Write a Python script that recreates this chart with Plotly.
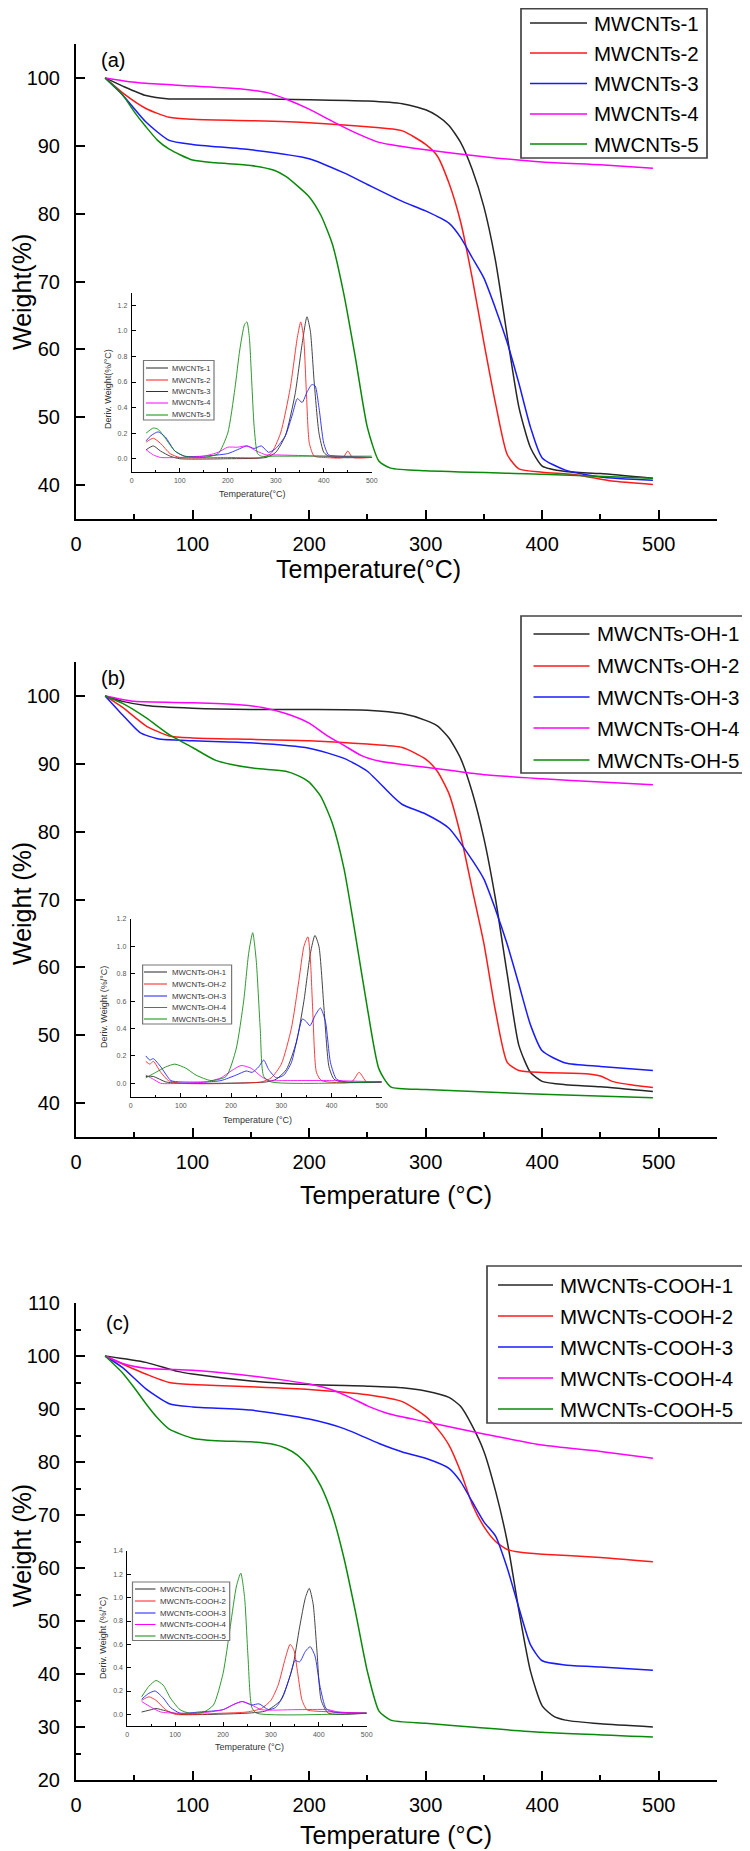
import plotly.graph_objects as go

# The page body adds an 8 px offset; the figure is sized so that it fills the window.
OFF = 8
W, H = 750 - OFF, 1851 - OFF
FONT = "Arial, Liberation Sans, sans-serif"
COLORS = ["#262626", "#ff1a1a", "#1a1aff", "#ff00ff", "#0a8a0a"]

# ---------------- Panel (a): TGA ----------------
a_names = ["MWCNTs-1", "MWCNTs-2", "MWCNTs-3", "MWCNTs-4", "MWCNTs-5"]
a1_t = [25, 40, 60, 80, 100, 150, 200, 250, 280, 300, 310, 320, 330, 340, 350, 360, 370, 380, 390, 400, 420, 450, 495]
a1_w = [100, 98.8, 97.4, 96.9, 96.9, 96.9, 96.8, 96.6, 96.2, 95.3, 94.4, 93.0, 90.5, 86.5, 81, 73, 62, 51.5, 45.5, 42.8, 42.0, 41.7, 41.0]
a2_t = [25, 40, 60, 80, 100, 150, 200, 250, 280, 300, 310, 320, 330, 340, 350, 360, 370, 380, 400, 430, 460, 495]
a2_w = [100, 97.8, 95.5, 94.2, 93.9, 93.7, 93.4, 92.8, 92.2, 90.2, 88.5, 84.5, 78.8, 70.5, 61.0, 52.0, 44.5, 42.4, 41.9, 41.5, 40.6, 40.1]
a3_t = [25, 40, 60, 80, 100, 150, 200, 230, 250, 280, 300, 320, 330, 340, 350, 360, 370, 380, 390, 400, 420, 450, 495]
a3_w = [100, 97.5, 93.5, 90.8, 90.2, 89.4, 88.1, 86, 84.3, 81.8, 80.4, 78.6, 76.5, 73.5, 70.5, 66, 61, 55, 48.5, 44, 42.2, 41.2, 40.7]
a4_t = [25, 40, 60, 100, 140, 165, 180, 200, 220, 240, 260, 280, 300, 350, 400, 450, 495]
a4_w = [100, 99.6, 99.2, 98.8, 98.4, 97.8, 96.9, 95.4, 93.6, 91.9, 90.5, 89.9, 89.4, 88.4, 87.6, 87.2, 86.7]
a5_t = [25, 40, 50, 60, 70, 80, 100, 120, 150, 170, 180, 190, 200, 210, 220, 230, 240, 250, 260, 270, 300, 400, 495]
a5_w = [100, 97.5, 95, 92.8, 90.8, 89.5, 87.9, 87.5, 87.1, 86.4, 85.5, 84.1, 82.5, 79.8, 75.5, 68, 58.5, 48.5, 43.5, 42.5, 42.1, 41.6, 41.0]

# Panel (a) inset: DTG
ai1_t = [30, 45, 60, 80, 100, 200, 280, 300, 320, 340, 355, 365, 372, 380, 390, 400, 410, 420, 500]
ai1_d = [0.07, 0.10, 0.06, 0.02, 0.0, 0.0, 0.01, 0.05, 0.18, 0.5, 0.9, 1.11, 1.0, 0.6, 0.2, 0.05, 0.02, 0.01, 0.01]
ai2_t = [30, 45, 60, 80, 100, 200, 270, 290, 310, 330, 345, 352, 358, 364, 370, 380, 400, 440, 450, 460, 500]
ai2_d = [0.13, 0.16, 0.12, 0.04, 0.01, 0.01, 0.01, 0.04, 0.2, 0.55, 0.95, 1.07, 0.95, 0.5, 0.12, 0.02, 0.01, 0.01, 0.06, 0.01, 0.01]
ai3_t = [30, 40, 55, 70, 90, 110, 150, 200, 220, 240, 255, 270, 285, 300, 320, 335, 345, 355, 365, 375, 382, 390, 400, 410, 430, 500]
ai3_d = [0.14, 0.18, 0.21, 0.17, 0.06, 0.02, 0.02, 0.04, 0.07, 0.10, 0.08, 0.10, 0.05, 0.08, 0.18, 0.35, 0.47, 0.44, 0.52, 0.58, 0.57, 0.4, 0.12, 0.03, 0.02, 0.01]
ai4_t = [30, 45, 60, 100, 150, 180, 200, 220, 240, 260, 280, 300, 400, 500]
ai4_d = [0.07, 0.03, 0.01, 0.01, 0.02, 0.05, 0.09, 0.09, 0.10, 0.06, 0.03, 0.03, 0.02, 0.01]
ai5_t = [30, 45, 55, 70, 90, 110, 150, 180, 200, 215, 225, 235, 240, 245, 250, 255, 262, 270, 300, 400, 500]
ai5_d = [0.20, 0.24, 0.23, 0.16, 0.06, 0.02, 0.01, 0.04, 0.20, 0.55, 0.85, 1.05, 1.07, 0.95, 0.6, 0.25, 0.04, 0.02, 0.02, 0.02, 0.02]

# ---------------- Panel (b): TGA ----------------
b_names = ["MWCNTs-OH-1", "MWCNTs-OH-2", "MWCNTs-OH-3", "MWCNTs-OH-4", "MWCNTs-OH-5"]
b1_t = [25, 40, 60, 100, 150, 200, 250, 280, 300, 310, 320, 330, 340, 350, 360, 370, 380, 390, 400, 420, 450, 495]
b1_w = [100, 99.2, 98.6, 98.2, 98.0, 98.0, 97.9, 97.4, 96.4, 95.6, 93.8, 90.8, 85.8, 79, 70, 59, 48.5, 44.5, 43.2, 42.7, 42.4, 41.7]
b2_t = [25, 40, 60, 80, 100, 150, 200, 250, 280, 300, 310, 320, 330, 340, 350, 360, 370, 380, 400, 440, 450, 460, 480, 495]
b2_w = [100, 98.3, 95.6, 94.1, 93.8, 93.6, 93.4, 92.9, 92.4, 90.7, 88.9, 85.6, 79.5, 71.5, 63.5, 53.5, 46, 44.8, 44.5, 44.3, 44.0, 43.2, 42.6, 42.3]
b3_t = [25, 40, 55, 70, 100, 150, 200, 230, 250, 270, 280, 300, 320, 340, 350, 360, 370, 380, 390, 400, 420, 450, 495]
b3_w = [100, 97.2, 94.6, 93.7, 93.4, 93.1, 92.3, 90.8, 88.9, 85.5, 84.0, 82.6, 80.5, 75.8, 73, 68.5, 63.4, 57.5, 51.5, 47.7, 45.9, 45.4, 44.8]
b4_t = [25, 50, 100, 140, 160, 180, 200, 215, 230, 245, 260, 280, 300, 350, 400, 450, 495]
b4_w = [100, 99.2, 99.0, 98.7, 98.3, 97.4, 96.0, 94.2, 92.7, 91.2, 90.4, 89.9, 89.5, 88.4, 87.8, 87.3, 86.9]
b5_t = [25, 40, 60, 80, 100, 120, 150, 180, 190, 200, 210, 220, 230, 240, 250, 260, 270, 300, 400, 495]
b5_w = [100, 98.9, 96.8, 94.3, 92.4, 90.5, 89.4, 88.9, 88.3, 87.3, 85.2, 81.2, 74.5, 64.5, 54, 45, 42.4, 42.0, 41.3, 40.8]

# Panel (b) inset: DTG
bi1_t = [30, 45, 70, 100, 270, 290, 310, 330, 345, 358, 367, 375, 385, 395, 405, 420, 500]
bi1_d = [0.05, 0.05, 0.01, 0.0, 0.01, 0.03, 0.1, 0.3, 0.6, 0.95, 1.08, 1.0, 0.55, 0.12, 0.03, 0.01, 0.01]
bi2_t = [30, 38, 45, 60, 75, 100, 260, 280, 300, 320, 335, 345, 353, 358, 363, 370, 380, 440, 455, 470, 500]
bi2_d = [0.16, 0.14, 0.16, 0.08, 0.02, 0.0, 0.01, 0.04, 0.14, 0.4, 0.75, 1.0, 1.07, 0.9, 0.5, 0.08, 0.02, 0.01, 0.08, 0.01, 0.01]
bi3_t = [30, 38, 45, 60, 80, 100, 150, 180, 210, 230, 242, 255, 265, 275, 290, 305, 320, 333, 342, 350, 357, 368, 378, 388, 398, 410, 430, 500]
bi3_d = [0.20, 0.17, 0.18, 0.12, 0.02, 0.01, 0.01, 0.02, 0.06, 0.09, 0.08, 0.12, 0.17, 0.10, 0.04, 0.06, 0.15, 0.35, 0.47, 0.45, 0.42, 0.5, 0.55, 0.45, 0.15, 0.03, 0.01, 0.01]
bi4_t = [30, 45, 60, 100, 150, 180, 200, 220, 240, 260, 275, 300, 400, 500]
bi4_d = [0.06, 0.03, 0.0, 0.0, 0.01, 0.04, 0.09, 0.13, 0.11, 0.05, 0.02, 0.02, 0.02, 0.01]
bi5_t = [30, 50, 70, 88, 110, 130, 160, 190, 210, 225, 235, 243, 250, 258, 265, 280, 500]
bi5_d = [0.04, 0.08, 0.12, 0.14, 0.11, 0.06, 0.02, 0.05, 0.25, 0.6, 0.95, 1.10, 0.9, 0.4, 0.05, 0.01, 0.01]

# ---------------- Panel (c): TGA ----------------
c_names = ["MWCNTs-COOH-1", "MWCNTs-COOH-2", "MWCNTs-COOH-3", "MWCNTs-COOH-4", "MWCNTs-COOH-5"]
c1_t = [25, 60, 87, 100, 150, 200, 250, 280, 300, 320, 330, 340, 350, 360, 370, 380, 390, 400, 410, 420, 450, 495]
c1_w = [100, 98.8, 97.1, 96.6, 95.3, 94.6, 94.3, 94.0, 93.4, 92.2, 90.5, 86.8, 82, 74.5, 65, 52, 40.5, 34, 32, 31.3, 30.6, 30.0]
c2_t = [25, 40, 60, 80, 100, 150, 200, 250, 280, 300, 310, 320, 330, 340, 350, 360, 370, 380, 400, 450, 495]
c2_w = [100, 98.5, 96.6, 95.0, 94.6, 94.2, 93.7, 92.7, 91.4, 88.6, 86.3, 83.2, 78.2, 72, 67.8, 65, 63.5, 63.0, 62.6, 62.0, 61.2]
c3_t = [25, 40, 60, 80, 100, 150, 200, 230, 260, 280, 300, 320, 330, 340, 350, 360, 370, 380, 390, 400, 420, 450, 495]
c3_w = [100, 97.8, 93.8, 91.0, 90.4, 89.8, 88.1, 86.3, 83.5, 81.9, 80.7, 78.8, 76.3, 72.5, 68.7, 66, 60, 52.5, 45.5, 42.5, 41.7, 41.3, 40.7]
c4_t = [25, 40, 60, 100, 140, 180, 200, 220, 235, 250, 270, 300, 350, 400, 450, 495]
c4_w = [100, 98.6, 97.7, 97.3, 96.5, 95.4, 94.7, 93.6, 92.2, 90.6, 89.0, 87.6, 85.3, 83.2, 82.0, 80.7]
c5_t = [25, 40, 50, 60, 70, 80, 100, 120, 150, 170, 180, 190, 200, 210, 220, 230, 240, 250, 260, 270, 300, 350, 400, 495]
c5_w = [100, 96.8, 94, 91, 88.3, 86.2, 84.5, 84.0, 83.8, 83.3, 82.6, 81.3, 79, 75.5, 70, 61.8, 51.5, 40.5, 33, 31.3, 30.7, 29.8, 29.0, 28.1]

# Panel (c) inset: DTG
ci1_t = [30, 50, 60, 80, 110, 250, 290, 320, 345, 360, 372, 380, 388, 396, 405, 420, 500]
ci1_d = [0.02, 0.04, 0.05, 0.03, 0.0, 0.01, 0.03, 0.12, 0.4, 0.75, 1.0, 1.08, 0.95, 0.55, 0.12, 0.01, 0.01]
ci2_t = [30, 45, 60, 80, 100, 200, 250, 280, 300, 315, 330, 340, 348, 356, 365, 375, 385, 500]
ci2_d = [0.12, 0.15, 0.12, 0.04, 0.0, 0.01, 0.02, 0.05, 0.12, 0.25, 0.48, 0.60, 0.55, 0.35, 0.12, 0.04, 0.03, 0.01]
ci3_t = [30, 45, 58, 75, 90, 110, 150, 200, 225, 240, 260, 275, 295, 310, 325, 340, 350, 360, 372, 382, 392, 402, 415, 430, 500]
ci3_d = [0.13, 0.18, 0.2, 0.14, 0.06, 0.01, 0.02, 0.04, 0.09, 0.11, 0.08, 0.09, 0.04, 0.06, 0.15, 0.33, 0.46, 0.45, 0.54, 0.58, 0.5, 0.25, 0.05, 0.02, 0.01]
ci4_t = [30, 50, 70, 100, 150, 200, 220, 240, 260, 280, 350, 420, 440, 500]
ci4_d = [0.11, 0.06, 0.02, 0.01, 0.01, 0.04, 0.08, 0.11, 0.08, 0.04, 0.04, 0.04, 0.02, 0.01]
ci5_t = [30, 45, 60, 75, 90, 110, 130, 160, 180, 200, 215, 228, 237, 245, 252, 260, 270, 500]
ci5_d = [0.15, 0.24, 0.29, 0.25, 0.14, 0.04, 0.01, 0.02, 0.08, 0.35, 0.75, 1.1, 1.21, 1.0, 0.5, 0.06, 0.01, 0.01]

# axis tick values
main_xticks = [0, 100, 200, 300, 400, 500]
ab_yticks = [40, 50, 60, 70, 80, 90, 100]
c_yticks = [20, 30, 40, 50, 60, 70, 80, 90, 100, 110]


def px(x):
    """page pixel x -> paper fraction"""
    return (x - OFF) / W


def py(y):
    """page pixel y -> paper fraction"""
    return 1 - (y - OFF) / H


panels = [
    dict(key="a", names=a_names,
         tga=[(a1_t, a1_w), (a2_t, a2_w), (a3_t, a3_w), (a4_t, a4_w), (a5_t, a5_w)],
         dtg=[(ai1_t, ai1_d), (ai2_t, ai2_d), (ai3_t, ai3_d), (ai4_t, ai4_d), (ai5_t, ai5_d)],
         top=44, bot=519, yrange=[35, 105], yticks=ab_yticks,
         ins=(131.7, 371.8, 292.5, 471.5), insr=[-0.1, 1.3],
         leg=(521, 707, 8.7, 158, 530, 587, 593, [23, 53, 83.5, 114, 144]),
         ileg=(143.5, 214, 360.5, 420, 146, 168, 171, [368, 380, 391.5, 403, 415]), ifont=7.5,
         xt="Temperature(°C)", xtpos=(368, 569), yt="Weight(%)", ytpos=(22, 292),
         ixt="Temperature(°C)", ixtpos=(252, 494), iyt="Deriv. Weight(%/°C)", iytpos=(108, 389),
         lab="(a)", labpos=(113, 60)),
    dict(key="b", names=b_names,
         tga=[(b1_t, b1_w), (b2_t, b2_w), (b3_t, b3_w), (b4_t, b4_w), (b5_t, b5_w)],
         dtg=[(bi1_t, bi1_d), (bi2_t, bi2_d), (bi3_t, bi3_d), (bi4_t, bi4_d), (bi5_t, bi5_d)],
         top=662, bot=1137, yrange=[35, 105], yticks=ab_yticks,
         ins=(130.7, 381.7, 919, 1097), insr=[-0.1, 1.2],
         leg=(521, 749, 616, 773, 533.5, 589.5, 595.5, [634, 666, 697, 728, 760]),
         ileg=(142.6, 231.6, 965, 1024, 144, 167, 171, [972, 984, 996, 1007.5, 1019]), ifont=7.8,
         xt="Temperature (°C)", xtpos=(396, 1195), yt="Weight (%)", ytpos=(22, 904),
         ixt="Temperature (°C)", ixtpos=(257, 1120), iyt="Deriv. Weight (%/°C)", iytpos=(104, 1007),
         lab="(b)", labpos=(113, 678)),
    dict(key="c", names=c_names,
         tga=[(c1_t, c1_w), (c2_t, c2_w), (c3_t, c3_w), (c4_t, c4_w), (c5_t, c5_w)],
         dtg=[(ci1_t, ci1_d), (ci2_t, ci2_d), (ci3_t, ci3_d), (ci4_t, ci4_d), (ci5_t, ci5_d)],
         top=1303, bot=1780, yrange=[20, 110], yticks=c_yticks,
         ins=(127.3, 366.7, 1551, 1726), insr=[-0.1, 1.4],
         leg=(487, 746, 1266, 1423, 498, 553, 559, [1285, 1316, 1347, 1378, 1409]),
         ileg=(132.5, 229.7, 1582, 1640.5, 135, 155.5, 159, [1589, 1601, 1613, 1624.5, 1636]), ifont=7.8,
         xt="Temperature (°C)", xtpos=(396, 1835), yt="Weight (%)", ytpos=(22, 1546),
         ixt="Temperature (°C)", ixtpos=(249, 1747), iyt="Deriv. Weight (%/°C)", iytpos=(103, 1638),
         lab="(c)", labpos=(117, 1323)),
]

fig = go.Figure()
layout = dict(width=W, height=H, margin=dict(l=0, r=0, t=0, b=0, pad=0, autoexpand=False),
              paper_bgcolor="white", plot_bgcolor="rgba(0,0,0,0)", showlegend=False,
              font=dict(family=FONT, color="black"), annotations=[], shapes=[])


def add_legend(names, box, lw, border, fsize, tcolor):
    bx0, bx1, by0, by1, lx0, lx1, tx0, rows = box
    layout["shapes"].append(dict(type="rect", xref="paper", yref="paper",
                                 x0=px(bx0), x1=px(bx1), y0=py(by1), y1=py(by0),
                                 line=dict(color=border, width=lw + 0.2), fillcolor="white"))
    for j, ry in enumerate(rows):
        layout["shapes"].append(dict(type="line", xref="paper", yref="paper",
                                     x0=px(lx0), x1=px(lx1), y0=py(ry), y1=py(ry),
                                     line=dict(color=COLORS[j], width=lw)))
        layout["annotations"].append(dict(text=names[j], x=px(tx0), y=py(ry), xref="paper", yref="paper",
                                          showarrow=False, xanchor="left", yanchor="middle",
                                          xshift=-1, font=dict(size=fsize, family=FONT, color=tcolor)))


MX0, MX1 = 76, 717
for i, p in enumerate(panels):
    mi = 2 * i + 1
    ii = 2 * i + 2
    mx, my = f"x{mi}" if mi > 1 else "x", f"y{mi}" if mi > 1 else "y"
    ix, iy = f"x{ii}", f"y{ii}"
    for j, (t, w) in enumerate(p["tga"]):
        fig.add_trace(go.Scatter(x=t, y=w, xaxis=mx, yaxis=my, mode="lines", name=p["names"][j],
                                 line=dict(color=COLORS[j], width=1.5, shape="spline", smoothing=0.6)))
    for j, (t, d) in enumerate(p["dtg"]):
        fig.add_trace(go.Scatter(x=t, y=d, xaxis=ix, yaxis=iy, mode="lines", name=p["names"][j] + " DTG",
                                 line=dict(color=COLORS[j], width=1, shape="spline", smoothing=0.6),
                                 opacity=0.85))
    xk = "xaxis" if mi == 1 else f"xaxis{mi}"
    yk = "yaxis" if mi == 1 else f"yaxis{mi}"
    layout[xk] = dict(domain=[px(MX0), px(MX1)], range=[0, 550], anchor=my, automargin=False,
                      tickmode="array", tickvals=main_xticks, ticks="inside", ticklen=9, tickwidth=2,
                      tickcolor="black", showline=True, linecolor="black", linewidth=2,
                      showgrid=False, zeroline=False, tickfont=dict(size=20, family=FONT),
                      ticklabelstandoff=6,
                      minor=dict(tickmode="array", tickvals=[50, 150, 250, 350, 450, 550],
                                 ticks="inside", ticklen=5, tickwidth=2, tickcolor="black"))
    yminor = [v + 5 for v in range(p["yrange"][0], p["yrange"][1], 10)]
    yminor = [v for v in yminor if v <= p["yrange"][1]]
    layout[yk] = dict(domain=[py(p["bot"]), py(p["top"])], range=p["yrange"], anchor=mx, automargin=False,
                      tickmode="array", tickvals=p["yticks"], ticks="inside", ticklen=9, tickwidth=2,
                      tickcolor="black", showline=True, linecolor="black", linewidth=2,
                      showgrid=False, zeroline=False, tickfont=dict(size=20, family=FONT),
                      ticklabelstandoff=10,
                      minor=dict(tickmode="array", tickvals=yminor,
                                 ticks="inside", ticklen=5, tickwidth=2, tickcolor="black"))
    x0, x1, y0, y1 = p["ins"]
    lo, hi = p["insr"]
    itv = [round(v * 0.2, 1) for v in range(0, int(hi / 0.2 + 1e-6) + 1)]
    layout[f"xaxis{ii}"] = dict(domain=[px(x0), px(x1)], range=[0, 500], anchor=iy, automargin=False,
                                tickmode="array", tickvals=[0, 100, 200, 300, 400, 500],
                                ticks="inside", ticklen=4, tickwidth=1, tickcolor="black",
                                showline=True, linecolor="black", linewidth=1, showgrid=False,
                                zeroline=False, tickfont=dict(size=7, color="#555", family=FONT),
                                ticklabelstandoff=2,
                                minor=dict(tickmode="array", tickvals=[50, 150, 250, 350, 450],
                                           ticks="inside", ticklen=2, tickwidth=1, tickcolor="black"))
    layout[f"yaxis{ii}"] = dict(domain=[py(y1), py(y0)], range=[lo, hi], anchor=ix, automargin=False,
                                tickmode="array", tickvals=itv, tickformat=".1f",
                                ticks="inside", ticklen=4, tickwidth=1, tickcolor="black",
                                showline=True, linecolor="black", linewidth=1, showgrid=False,
                                zeroline=False, tickfont=dict(size=7, color="#555", family=FONT),
                                ticklabelstandoff=2)
    # axis titles & panel label
    tx, ty = p["xtpos"]
    layout["annotations"].append(dict(text=p["xt"], x=px(tx), y=py(ty), xref="paper", yref="paper",
                                      showarrow=False, xanchor="center", yanchor="middle",
                                      font=dict(size=25, family=FONT)))
    tx, ty = p["ytpos"]
    layout["annotations"].append(dict(text=p["yt"], x=px(tx), y=py(ty), xref="paper", yref="paper",
                                      showarrow=False, xanchor="center", yanchor="middle", textangle=-90,
                                      font=dict(size=25, family=FONT)))
    tx, ty = p["labpos"]
    layout["annotations"].append(dict(text=p["lab"], x=px(tx), y=py(ty), xref="paper", yref="paper",
                                      showarrow=False, xanchor="center", yanchor="middle",
                                      font=dict(size=20, family=FONT)))
    tx, ty = p["ixtpos"]
    layout["annotations"].append(dict(text=p["ixt"], x=px(tx), y=py(ty), xref="paper", yref="paper",
                                      showarrow=False, xanchor="center", yanchor="middle",
                                      font=dict(size=9, family=FONT, color="#333")))
    tx, ty = p["iytpos"]
    layout["annotations"].append(dict(text=p["iyt"], x=px(tx), y=py(ty), xref="paper", yref="paper",
                                      showarrow=False, xanchor="center", yanchor="middle", textangle=-90,
                                      font=dict(size=9, family=FONT, color="#333")))
    # legends: main (large) and inset (small)
    add_legend(p["names"], p["leg"], 1.5, "#444", 20.5, "black")
    add_legend(p["names"], p["ileg"], 1, "#777", p["ifont"], "#333")

fig.update_layout(**layout)
fig.write_html("out.html")
